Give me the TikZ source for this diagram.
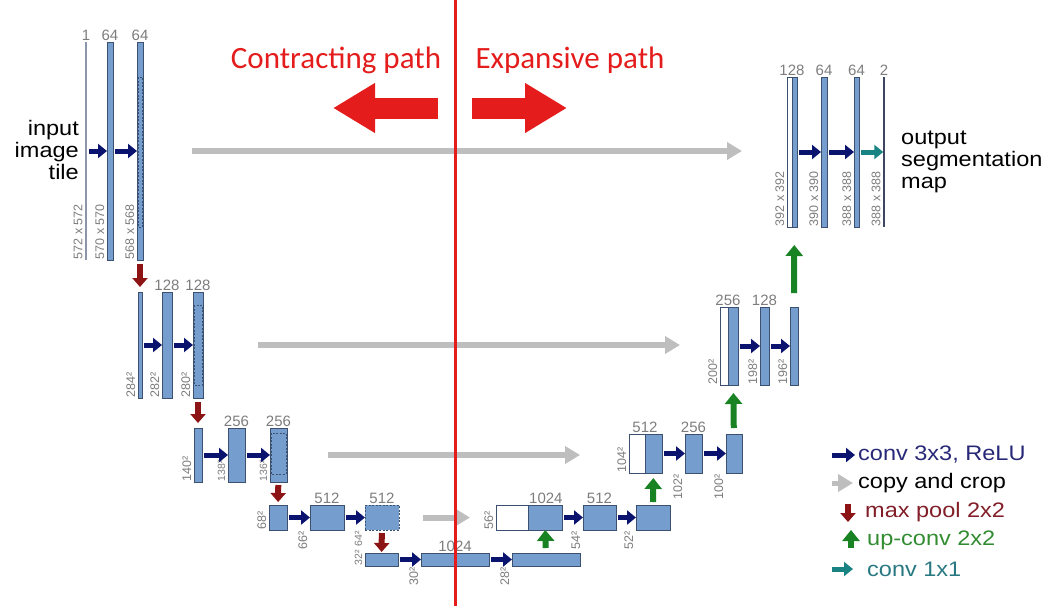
\documentclass[tikz,border=0pt]{standalone}
\usepackage{fontspec}
\setmainfont{Liberation Sans}
\newfontfamily\titlefont{Carlito}
\newfontfamily\widefont[FakeStretch=1.12]{Liberation Sans}
\usepackage{tikz}
\usetikzlibrary{arrows.meta}
\definecolor{fm}{RGB}{117,158,206}
\definecolor{edge}{RGB}{60,80,112}
\definecolor{thinin}{RGB}{140,150,170}
\definecolor{thinout}{RGB}{60,70,95}
\definecolor{dimgray}{RGB}{125,125,125}
\definecolor{navyarr}{RGB}{10,20,110}
\definecolor{copygray}{RGB}{190,190,190}
\definecolor{poolred}{RGB}{140,20,20}
\definecolor{upgreen}{RGB}{25,130,35}
\definecolor{tealarr}{RGB}{25,130,130}
\definecolor{pathred}{RGB}{228,28,28}
\definecolor{navytxt}{RGB}{40,40,120}
\definecolor{pooltxt}{RGB}{130,30,40}
\definecolor{uptxt}{RGB}{50,140,50}
\definecolor{tealtxt}{RGB}{40,120,130}

\begin{document}
\begin{tikzpicture}[x=1pt, y=-1pt,
  fmap/.style={draw=edge, fill=fm, line width=0.8pt, inner sep=0pt, outer sep=0pt, anchor=north west},
  cropmap/.style={fmap, fill=white},
  thinmap/.style={fmap, draw=none, fill=#1, minimum width=1.5pt},
  chan/.style={font=\fontsize{15}{15}\selectfont, text=dimgray, inner sep=1pt},
  dimv/.style={rotate=90, anchor=south west, font=\fontsize{12.5}{12.5}\selectfont, text=dimgray, inner xsep=0.5pt, inner ysep=2.5pt},
  dimd/.style={dimv, anchor=south east, inner xsep=1pt},
  dimsm/.style={font=\fontsize{10.5}{10.5}\selectfont},
  cropline/.style={draw=edge, line width=0.6pt, dash pattern=on 2pt off 1.5pt},
  conv/.style={draw=navyarr, line width=5pt, -{Triangle[length=9pt,width=14pt]}, shorten <=2pt},
  conv1/.style={conv, draw=tealarr},
  copyarr/.style={draw=copygray, line width=6pt, -{Triangle[length=15pt,width=17pt]}},
  pool/.style={draw=poolred, line width=6pt, -{Triangle[length=9pt,width=15pt]}, shorten <=4pt, shorten >=5pt},
  upconv/.style={draw=upgreen, line width=6pt, -{Triangle[length=11pt,width=17pt]}},
  bigarrow/.style={draw=pathred, line width=21pt, -{Triangle[length=42pt,width=47pt]}},
  title/.style={font=\titlefont\fontsize{31}{31}\selectfont, text=pathred, inner sep=0pt},
  bigtext/.style={font=\widefont\fontsize{21}{22}\selectfont, inner sep=0pt},
  legend/.style={font=\widefont\fontsize{21}{21}\selectfont, inner sep=1pt, anchor=west}]

\useasboundingbox (0,0) rectangle (1046,606);

\node[thinmap=thinin, minimum height=218pt, label={[chan]north:1}, label={[dimv]south west:572 x 572}] (a1) at (85.25,42) {};
\node[fmap, minimum width=6pt, minimum height=218pt, label={[chan]north:64}, label={[dimv]south west:570 x 570}] (a2) at (107,42) {};
\node[fmap, minimum width=6pt, minimum height=218pt, label={[chan]north:64}, label={[dimv]south west:568 x 568}] (a3) at (137,42) {};
\draw[cropline] ([shift={(1,35)}]a3.north west) rectangle ([shift={(-1,-33)}]a3.south east);

\node[fmap, minimum width=4pt, minimum height=106pt, label={[dimv]south west:284²}] (b1) at (138,292) {};
\node[fmap, minimum width=10pt, minimum height=106pt, label={[chan]north:128}, label={[dimv]south west:282²}] (b2) at (162,292) {};
\node[fmap, minimum width=10pt, minimum height=106pt, label={[chan]north:128}, label={[dimv]south west:280²}] (b3) at (193,292) {};
\draw[cropline] ([shift={(1,13)}]b3.north west) rectangle ([shift={(-1,-13)}]b3.south east);

\node[fmap, minimum width=8pt, minimum height=54pt, label={[dimv]south west:140²}] (c1) at (194,428) {};
\node[fmap, minimum width=17pt, minimum height=54pt, label={[chan]north:256}, label={[dimv, dimsm]south west:138²}] (c2) at (228,428) {};
\node[fmap, minimum width=17pt, minimum height=54pt, label={[chan]north:256}, label={[dimv, dimsm]south west:136²}] (c3) at (270,428) {};
\draw[cropline] ([shift={(1,5)}]c3.north west) rectangle ([shift={(-1,-8)}]c3.south east);

\node[fmap, minimum width=18pt, minimum height=25pt, label={[dimv]south west:68²}] (d1) at (269,505) {};
\node[fmap, minimum width=34pt, minimum height=25pt, label={[chan]north:512}, label={[dimd]south west:66²}] (d2) at (310,505) {};
\node[fmap, dash pattern=on 2pt off 1.5pt, minimum width=34pt, minimum height=25pt, label={[chan]north:512}, label={[dimd, dimsm]south west:64²}] (d3) at (365,505) {};

\node[fmap, minimum width=33pt, minimum height=13pt, label={[dimv, dimsm]south west:32²}] (e1) at (365,553) {};
\node[fmap, minimum width=68pt, minimum height=13pt, label={[chan]north:1024}, label={[dimd]south west:30²}] (e2) at (421,553) {};
\node[fmap, minimum width=68pt, minimum height=13pt, label={[dimd]south west:28²}] (e3) at (512,553) {};

\node[cropmap, minimum width=32pt, minimum height=25pt, label={[chan]north east:1024}, label={[dimv]south west:56²}] (x1c) at (496,505) {};
\node[fmap, minimum width=34pt, minimum height=25pt] (x1) at (528,505) {};
\node[fmap, minimum width=33pt, minimum height=25pt, label={[chan]north:512}, label={[dimd]south west:54²}] (x2) at (583,505) {};
\node[fmap, minimum width=34pt, minimum height=25pt, label={[dimd]south west:52²}] (x3) at (636,505) {};

\node[cropmap, minimum width=16pt, minimum height=39pt, label={[chan, anchor=south]north east:512}, label={[dimv]south west:104²}] (w1c) at (629,434) {};
\node[fmap, minimum width=17pt, minimum height=39pt] (w1) at (645,434) {};
\node[fmap, minimum width=17pt, minimum height=39pt, label={[chan]north:256}, label={[dimd]south west:102²}] (w2) at (685,434) {};
\node[fmap, minimum width=16pt, minimum height=39pt, label={[dimd]south west:100²}] (w3) at (726,434) {};

\node[cropmap, minimum width=8pt, minimum height=78pt, label={[chan, anchor=south]north east:256}, label={[dimv]south west:200²}] (v1c) at (720,307) {};
\node[fmap, minimum width=10pt, minimum height=78pt] (v1) at (728,307) {};
\node[fmap, minimum width=9pt, minimum height=78pt, label={[chan]north:128}, label={[dimv]south west:198²}] (v2) at (760,307) {};
\node[fmap, minimum width=8pt, minimum height=78pt, label={[dimv]south west:196²}] (v3) at (790,307) {};

\node[cropmap, minimum width=5pt, minimum height=150pt, label={[chan, anchor=south]north east:128}, label={[dimv]south west:392 x 392}] (u1c) at (787,77) {};
\node[fmap, minimum width=5pt, minimum height=150pt] (u1) at (792,77) {};
\node[fmap, minimum width=6pt, minimum height=150pt, label={[chan]north:64}, label={[dimv]south west:390 x 390}] (u2) at (821,77) {};
\node[fmap, minimum width=5pt, minimum height=150pt, label={[chan]north:64}, label={[dimv]south west:388 x 388}] (u3) at (854,77) {};
\node[thinmap=thinout, minimum height=150pt, label={[chan]north:2}, label={[dimv]south west:388 x 388}] (u4) at (883.25,77) {};

\draw[conv] (a1) -- (a2);
\draw[conv] (a2) -- (a3);
\draw[conv] (b1) -- (b2);
\draw[conv] (b2) -- (b3);
\draw[conv] (c1) -- (c2);
\draw[conv] (c2) -- (c3);
\draw[conv] (d1) -- (d2);
\draw[conv] (d2) -- (d3);
\draw[conv] (e1) -- (e2);
\draw[conv] (e2) -- (e3);
\draw[conv] (x1) -- (x2);
\draw[conv] (x2) -- (x3);
\draw[conv] (w1) -- (w2);
\draw[conv] (w2) -- (w3);
\draw[conv] (v1) -- (v2);
\draw[conv] (v2) -- (v3);
\draw[conv] (u1) -- (u2);
\draw[conv] (u2) -- (u3);
\draw[conv1] (u3) -- (u4);

\draw[copyarr, shorten <=49pt, shorten >=45pt] (a3.east) -- (a3.east -| u1c.west);
\draw[copyarr, shorten <=55pt, shorten >=40pt] (b3.east) -- (b3.east -| v1c.west);
\draw[copyarr, shorten <=41pt, shorten >=49pt] (c3.east) -- (c3.east -| w1c.west);
\draw[copyarr, shorten <=24pt, shorten >=26pt] (d3.east) -- (d3.east -| x1c.west);

\draw[pool] (a3) -- (b1);
\draw[pool] (b3) -- (c1);
\draw[pool, shorten <=3pt, shorten >=3pt] (c3) -- (d1);
\draw[pool, shorten <=3pt, shorten >=1pt] (d3) -- (e1);

\draw[upconv, shorten <=5pt] (e3) -- (x1);
\draw[upconv, shorten <=3pt, shorten >=5pt] (x3) -- (w1);
\draw[upconv, shorten <=6pt, shorten >=8pt] (w3) -- (v1);
\draw[upconv, shorten <=14pt, shorten >=18pt] (v3) -- (u1);

\node[bigtext, align=right, anchor=east] (inp) at (79,150) {input\\image\\tile};
\node[bigtext, align=left, anchor=west] (outp) at (901,162) {output\\segmentation\\map};

\coordinate (ltop) at (455,0);
\coordinate (lbot) at (455,606);
\draw[draw=pathred, line width=3pt] (ltop) -- (lbot);
\node[title] (tcon) at (336,60) {Contracting path};
\node[title] (texp) at (570,60) {Expansive path};
\coordinate (cl0) at (438,108);
\coordinate (cl1) at (333,108);
\coordinate (cr0) at (472,108);
\coordinate (cr1) at (567,108);
\draw[bigarrow] (cl0) -- (cl1);
\draw[bigarrow] (cr0) -- (cr1);

\node[legend, text=navytxt] (k1) at (857,455) {conv 3x3, ReLU};
\node[legend] (k2) at (857,483) {copy and crop};
\node[legend, text=pooltxt] (k3) at (864,512) {max pool 2x2};
\node[legend, text=uptxt] (k4) at (866,540) {up-conv 2x2};
\node[legend, text=tealtxt] (k5) at (866,569) {conv 1x1};
\draw[conv, shorten <=0pt] ([xshift=-25pt]k1.west) -- ([xshift=-2pt]k1.west);
\draw[copyarr, line width=5pt] ([xshift=-25pt]k2.west) -- ([xshift=-4pt]k2.west);
\draw[pool, shorten <=0pt, shorten >=0pt] ([shift={(-16,-8)}]k3.west) -- ([shift={(-16,10)}]k3.west);
\draw[upconv] ([shift={(-15,8)}]k4.west) -- ([shift={(-15,-10)}]k4.west);
\draw[conv1, shorten <=0pt] ([xshift=-34pt]k5.west) -- ([xshift=-13pt]k5.west);
\end{tikzpicture}
\end{document}
